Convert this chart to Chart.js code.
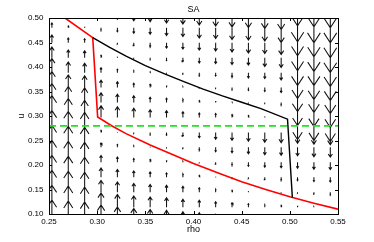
<!DOCTYPE html>
<html><head><meta charset="utf-8">
<style>html,body{margin:0;padding:0;background:#fff;}canvas{display:block;}</style>
<script src="https://cdn.jsdelivr.net/npm/chart.js@4.4.1/dist/chart.umd.min.js"></script>
</head><body>
<canvas id="c" width="374" height="242"></canvas>
<script>
// ---- data ----
const titleText = 'SA';
const xLabel = 'rho';
const yLabel = 'u';
const xTickVals = [0.25, 0.3, 0.35, 0.4, 0.45, 0.5, 0.55];
const yTickVals = [0.1, 0.15, 0.2, 0.25, 0.3, 0.35, 0.4, 0.45, 0.5];

// quiver grid (arrow tails)
const rhoCols = [0.253, 0.270, 0.287, 0.304, 0.321, 0.338, 0.355, 0.372, 0.389,
                 0.406, 0.423, 0.440, 0.457, 0.474, 0.491, 0.508, 0.525, 0.542];
const uRows = [0.0225, 0.053, 0.0835, 0.114, 0.1445, 0.175, 0.2055, 0.236, 0.2665,
               0.297, 0.3275, 0.358, 0.3885, 0.419, 0.4495, 0.48, 0.5105, 0.541];

// vertical component of each arrow, one list per rho column (bottom -> top)
const v_c01 = [0.045,0.045,0.045,0.045,0.045,0.045,0.045,0.045,0.045,0.045,0.039,0.033,0.029,0.022,0.016,0.010,0.006,0];
const v_c02 = [0.043,0.043,0.043,0.043,0.043,0.043,0.043,0.043,0.043,0.039,0.033,0.026,0.022,0.016,0.010,0.004,0,-0.006];
const v_c03 = [0.041,0.041,0.041,0.041,0.041,0.041,0.041,0.041,0.041,0.035,0.030,0.024,0.019,0.014,0.008,0.002,-0.004,-0.010];
const v_c04 = [0.045,0.039,0.035,0.029,0.024,0.019,0.014,0.009,0.0045,0.024,0.020,0.015,0.010,0.005,0,-0.005,-0.010,-0.015];
const v_c05 = [0.041,0.036,0.031,0.026,0.021,0.016,0.011,0.006,0.001,0.022,0.017,0.012,0.007,0.002,-0.003,-0.008,-0.013,-0.018];
const v_c06 = [0.038,0.033,0.028,0.023,0.018,0.013,0.008,0.003,-0.002,0.019,0.014,0.009,0.004,-0.001,-0.006,-0.011,-0.016,-0.021];
const v_c07 = [0.036,0.031,0.026,0.021,0.016,0.011,0.006,0.001,-0.004,0.016,0.011,0.007,0.002,-0.003,-0.008,-0.013,-0.018,-0.023];
const v_c08 = [0.034,0.029,0.024,0.019,0.014,0.009,0.004,-0.001,-0.006,0.014,0.009,0.004,-0.001,-0.006,-0.011,-0.016,-0.021,-0.026];
const v_c09 = [0.031,0.026,0.021,0.016,0.012,0.007,0.002,-0.003,-0.008,0.012,0.007,0.002,-0.003,-0.008,-0.013,-0.018,-0.023,-0.028];
const v_c10 = [0.029,0.024,0.019,0.014,0.009,0.004,-0.001,-0.006,-0.011,0.009,0.004,-0.001,-0.006,-0.011,-0.015,-0.021,-0.025,-0.031];
const v_c11 = [0.026,0.021,0.016,0.011,0.006,0.001,-0.004,-0.009,-0.014,0.008,0.003,-0.002,-0.007,-0.012,-0.017,-0.022,-0.027,-0.032];
const v_c12 = [0.023,0.019,0.014,0.009,0.004,-0.001,-0.006,-0.011,-0.016,0.006,0.001,-0.004,-0.009,-0.014,-0.019,-0.024,-0.029,-0.034];
const v_c13 = [0.022,0.017,0.012,0.007,0.002,-0.003,-0.008,-0.013,-0.018,0.004,-0.001,-0.006,-0.011,-0.015,-0.021,-0.025,-0.030,-0.035];
const v_c14 = [0.020,0.015,0.010,0.005,0,-0.005,-0.010,-0.015,-0.020,0.002,-0.002,-0.008,-0.012,-0.018,-0.022,-0.027,-0.032,-0.037];
const v_c15 = [0.019,0.014,0.009,0.004,-0.001,-0.006,-0.011,-0.016,-0.021,0,-0.005,-0.010,-0.015,-0.020,-0.024,-0.030,-0.034,-0.040];
const v_c16 = [0.018,0.013,0.008,0.003,-0.002,-0.007,-0.012,-0.017,-0.022,-0.045,-0.047,-0.049,-0.053,-0.057,-0.057,-0.057,-0.059,-0.057];
const v_c17 = [0.016,0.011,0.006,0.001,-0.004,-0.009,-0.014,-0.019,-0.024,-0.047,-0.049,-0.051,-0.055,-0.057,-0.059,-0.059,-0.061,-0.059];
const v_c18 = [0.015,0.010,0.005,0,-0.005,-0.010,-0.015,-0.020,-0.025,-0.049,-0.051,-0.053,-0.057,-0.059,-0.061,-0.061,-0.061,-0.061];
const vField = [v_c01,v_c02,v_c03,v_c04,v_c05,v_c06,v_c07,v_c08,v_c09,
                v_c10,v_c11,v_c12,v_c13,v_c14,v_c15,v_c16,v_c17,v_c18];

// red curve
const redRho = [0.2666, 0.2954, 0.3005, 0.315, 0.33, 0.355, 0.38, 0.40, 0.425, 0.45, 0.475, 0.50, 0.525, 0.55];
const redU   = [0.50,   0.46,   0.298,  0.280, 0.264, 0.241, 0.220, 0.203, 0.184, 0.166, 0.150, 0.135, 0.122, 0.110];
// black curve
const blackRho = [0.2954, 0.313, 0.33, 0.35, 0.37, 0.39, 0.41, 0.43, 0.45, 0.47, 0.4976, 0.5026];
const blackU   = [0.46,   0.44,  0.422, 0.403, 0.386, 0.37, 0.355, 0.341, 0.328, 0.315, 0.2935, 0.134];
// green dashed line
const greenRho = [0.25, 0.55];
const greenU   = [0.28, 0.28];

// ---- build ----
const HEAD_LEN = 0.33, HEAD_W = 0.33 * 0.33;
const quiverPts = [];
rhoCols.forEach((x, i) => {
  uRows.forEach((y, j) => {
    const v = vField[i][j];
    quiverPts.push({x, y}, {x, y: y + v}, {x, y: null});
    quiverPts.push({x: x - HEAD_W * v, y: y + v - HEAD_LEN * v}, {x, y: y + v},
                   {x: x + HEAD_W * v, y: y + v - HEAD_LEN * v}, {x, y: null});
  });
});
const zip = (a, b) => a.map((v, k) => ({x: v, y: b[k]}));

const FONT = "'Liberation Sans', Arial, Helvetica, sans-serif";

const frame = {
  id: 'frame',
  afterDatasetsDraw(chart) {
    const {ctx, chartArea: a, scales} = chart;
    ctx.save();
    ctx.strokeStyle = '#000';
    ctx.lineWidth = 1;
    const t = 3;
    ctx.beginPath();
    xTickVals.forEach(v => {
      const px = Math.round(scales.x.getPixelForValue(v)) + 0.5;
      ctx.moveTo(px, a.bottom); ctx.lineTo(px, a.bottom - t);
      ctx.moveTo(px, a.top); ctx.lineTo(px, a.top + t);
    });
    yTickVals.forEach(v => {
      const py = Math.round(scales.y.getPixelForValue(v)) + 0.5;
      ctx.moveTo(a.left, py); ctx.lineTo(a.left + t, py);
      ctx.moveTo(a.right, py); ctx.lineTo(a.right - t, py);
    });
    ctx.stroke();
    ctx.strokeRect(Math.round(a.left) + 0.5, Math.round(a.top) + 0.5,
                   Math.round(a.right - a.left), Math.round(a.bottom - a.top));
    ctx.restore();
  }
};

new Chart(document.getElementById('c'), {
  type: 'line',
  data: {
    datasets: [
      {data: zip(greenRho, greenU), borderColor: '#1fe51f', borderWidth: 1.8, borderDash: [7, 4], pointRadius: 0, order: 0},
      {data: zip(blackRho, blackU), borderColor: '#000', borderWidth: 1.4, pointRadius: 0, order: 1},
      {data: zip(redRho, redU), borderColor: '#ff0000', borderWidth: 1.6, pointRadius: 0, order: 2},
      {data: quiverPts, borderColor: '#111', borderWidth: 1.05, pointRadius: 0, spanGaps: false, order: 3}
    ]
  },
  options: {
    responsive: false,
    animation: false,
    events: [],
    layout: {padding: {left: 0, right: 36, top: 0, bottom: 0}},
    plugins: {
      legend: {display: false},
      tooltip: {enabled: false},
      title: {display: true, text: titleText, fullSize: false, color: '#000',
              font: {family: FONT, size: 9, weight: 'normal', lineHeight: 1.2},
              padding: {top: 4, bottom: 3.2}}
    },
    scales: {
      x: {
        type: 'linear', min: 0.25, max: 0.55,
        afterBuildTicks: s => { s.ticks = xTickVals.map(v => ({value: v})); },
        afterFit: s => { s.height = 28; },
        grid: {display: false, drawTicks: false},
        border: {display: false},
        ticks: {color: '#000', font: {family: FONT, size: 8}, padding: 2.5, maxRotation: 0, autoSkip: false},
        title: {display: true, text: xLabel, color: '#000', font: {family: FONT, size: 9, lineHeight: 1.2}, padding: {top: 0, bottom: 6.8}}
      },
      y: {
        type: 'linear', min: 0.1, max: 0.5,
        afterBuildTicks: s => { s.ticks = yTickVals.map(v => ({value: v})); },
        afterFit: s => { s.width = 49; },
        grid: {display: false, drawTicks: false},
        border: {display: false},
        ticks: {color: '#000', font: {family: FONT, size: 8}, padding: 5.5, autoSkip: false},
        title: {display: true, text: yLabel, color: '#000', font: {family: FONT, size: 9, lineHeight: 1.2}, padding: {top: 16, bottom: 0}}
      }
    }
  },
  plugins: [frame]
});
</script>
</body></html>
